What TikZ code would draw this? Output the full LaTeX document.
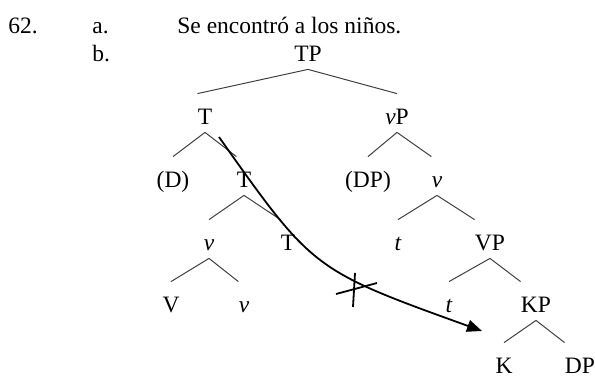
\documentclass[tikz,border=0pt]{standalone}
\usepackage{fontspec}
\setmainfont{Liberation Serif}
\usetikzlibrary{arrows.meta}

\begin{document}
\begin{tikzpicture}[x=0.5pt, y=-0.5pt,
      lab/.style={anchor=base, inner xsep=0pt, inner ysep=0pt, text height=15pt,
                  text depth=4pt, font=\fontsize{11.75}{14}\selectfont},
      txt/.style={anchor=base west, inner sep=0pt, font=\fontsize{11.75}{14}\selectfont},
      br/.style={line width=0.5pt, black!75},
      mv/.style={-{Triangle[length=7.5pt,width=6pt]}, line width=0.9pt},
      blk/.style={line width=0.9pt}
    ]
    \useasboundingbox (0,0) rectangle (595,376);

    \node[txt] (num) at (8,33) {62.};
    \node[txt] (ia) at (92,33) {a.};
    \node[txt] (sent) at (177,33) {Se encontró a los niños.};
    \node[txt] (ib) at (92,61) {b.};

    \node[lab] (tp) at (308,61) {TP};
    \node[lab] (t1) at (205,124) {T};
    \node[lab] (vp) at (397,124) {\textit{v}P};
    \node[lab] (d) at (173,187) {(D)};
    \node[lab] (t2) at (244,187) {T};
    \node[lab] (dp) at (368,187) {(DP)};
    \node[lab] (v2) at (437,187) {\textit{v}};
    \node[lab] (v1) at (209,250) {\textit{v}};
    \node[lab] (t3) at (288,250) {T};
    \node[lab] (tr1) at (398,250) {\textit{t}};
    \node[lab] (vpp) at (490,250) {VP};
    \node[lab] (bigv) at (171,312) {V};
    \node[lab] (v3) at (244,312) {\textit{v}};
    \node[lab] (tr2) at (449,312) {\textit{t}};
    \node[lab] (kp) at (536,312) {KP};
    \node[lab] (k) at (504,373) {K};
    \node[lab] (dpk) at (580,373) {DP};

    \draw[br] (tp.south) -- (t1.north west);
    \draw[br] (tp.south) -- (vp.north);
    \draw[br] (t1.south) -- (d.north);
    \draw[br] (t1.south) -- (t2.north west);
    \draw[br] (t2.south) -- (v1.north);
    \draw[br] (t2.south) -- (t3.north west);
    \draw[br] (v1.south) -- (bigv.north);
    \draw[br] (v1.south) -- (v3.north west);
    \draw[br] (vp.south) -- (dp.north);
    \draw[br] (vp.south) -- (v2.north west);
    \draw[br] (v2.south) -- (tr1.north);
    \draw[br] (v2.south) -- (vpp.north west);
    \draw[br] (vpp.south) -- (tr2.north);
    \draw[br] (vpp.south) -- (kp.north west);
    \draw[br] (kp.south) -- (k.north);
    \draw[br] (kp.south) -- (dpk.north west);

    \coordinate (src) at (219,137);
    \coordinate (goal) at (482,331);
    \draw[mv] (src) .. controls (313,270) and (313,270) .. (goal);

    \coordinate (bar) at (357,287);
    \draw[blk] ([shift={(-21,7)}]bar) -- ([shift={(20,-4)}]bar);
    \draw[blk] ([shift={(-2,-14)}]bar) -- ([shift={(-4,20)}]bar);
  \end{tikzpicture}
\end{document}
